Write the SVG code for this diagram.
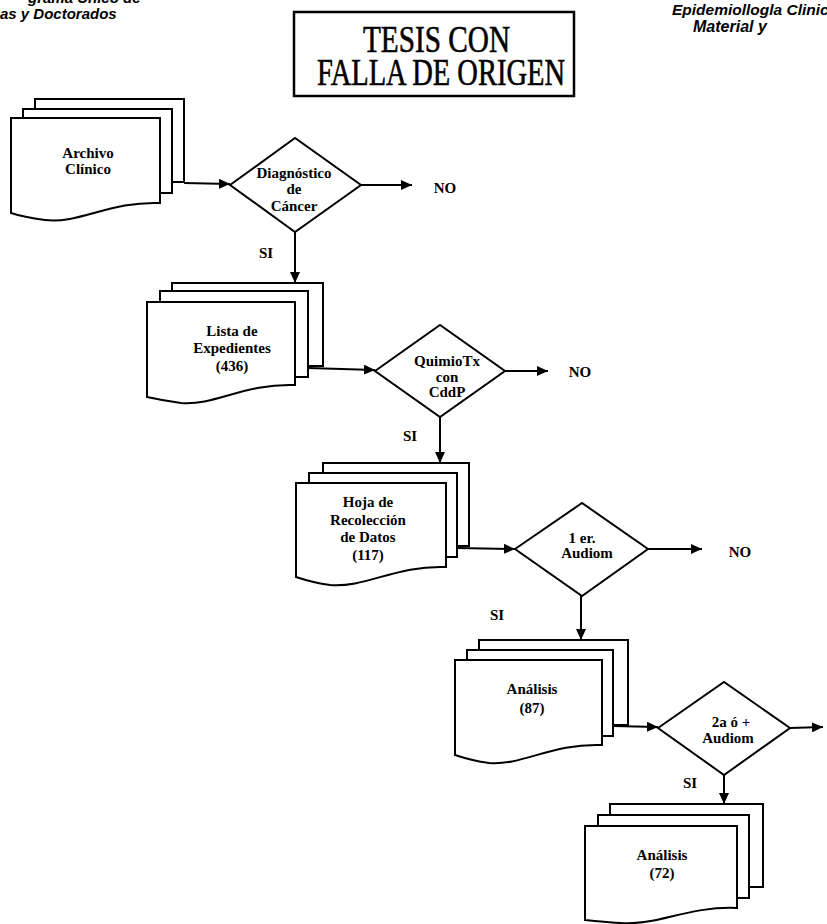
<svg xmlns="http://www.w3.org/2000/svg" width="827" height="924" viewBox="0 0 827 924">
<defs>
<style>
.pg{fill:#fff;stroke:#000;stroke-width:2;stroke-linejoin:miter}
.dm{fill:#fff;stroke:#000;stroke-width:2}
.ln{fill:none;stroke:#000;stroke-width:2}
.lb{font-family:"Liberation Serif","Times New Roman",serif;font-weight:bold;font-size:15px;text-anchor:middle;fill:#000}
.hd{font-family:"Liberation Sans",Arial,sans-serif;font-weight:bold;font-style:italic;fill:#000}
.st{font-family:"Liberation Serif","Times New Roman",serif;font-size:37px;fill:#000;stroke:#000;stroke-width:0.6}
</style>
<marker id="ah" markerWidth="12" markerHeight="10" refX="11" refY="5" orient="auto" markerUnits="userSpaceOnUse">
<path d="M0,0 L11,5 L0,10 Z" fill="#000"/>
</marker>
</defs>
<rect width="827" height="924" fill="#fff"/>

<g id="header">
<text class="hd" x="28" y="3" font-size="15">grama Único de</text>
<text class="hd" x="0" y="19" font-size="15">as y Doctorados</text>
<text class="hd" x="672" y="15" font-size="15.5">Epidemiollogla Clinic</text>
<text class="hd" x="693" y="32" font-size="16">Material y</text>
</g>

<g id="stamp">
<rect x="294" y="12" width="280" height="84" fill="#fff" stroke="#000" stroke-width="2.5"/>
<text class="st" x="363" y="52" textLength="147" lengthAdjust="spacingAndGlyphs">TESIS CON</text>
<text class="st" x="317" y="85" textLength="248" lengthAdjust="spacingAndGlyphs">FALLA DE ORIGEN</text>
</g>

<g id="connectors">
<line class="ln" x1="184" y1="183" x2="230" y2="184" marker-end="url(#ah)"/>
<line class="ln" x1="361" y1="185" x2="412" y2="185" marker-end="url(#ah)"/>
<line class="ln" x1="295" y1="232" x2="295" y2="283" marker-end="url(#ah)"/>
<line class="ln" x1="308" y1="368" x2="375" y2="370" marker-end="url(#ah)"/>
<line class="ln" x1="505" y1="371" x2="548" y2="371" marker-end="url(#ah)"/>
<line class="ln" x1="440" y1="417" x2="440" y2="463" marker-end="url(#ah)"/>
<line class="ln" x1="457" y1="548" x2="515" y2="549" marker-end="url(#ah)"/>
<line class="ln" x1="648" y1="549" x2="702" y2="549" marker-end="url(#ah)"/>
<line class="ln" x1="581" y1="596" x2="581" y2="640" marker-end="url(#ah)"/>
<line class="ln" x1="613" y1="726" x2="658" y2="727" marker-end="url(#ah)"/>
<line class="ln" x1="790" y1="728" x2="823" y2="727" marker-end="url(#ah)"/>
<line class="ln" x1="724" y1="775" x2="724" y2="804" marker-end="url(#ah)"/>
<text class="lb" x="266" y="258">SI</text>
<text class="lb" x="410" y="441">SI</text>
<text class="lb" x="497" y="620">SI</text>
<text class="lb" x="690" y="788">SI</text>
<text class="lb" x="445" y="193">NO</text>
<text class="lb" x="580" y="377">NO</text>
<text class="lb" x="740" y="557">NO</text>
</g>

<g id="archivo">
<rect class="pg" x="35" y="99" width="149" height="83"/>
<rect class="pg" x="23" y="109" width="149" height="84"/>
<path class="pg" d="M11,118 H160 V203 C110,201 80,224 45,220 C30,218 20,216 11,213 Z"/>
<text class="lb" x="88" y="158">Archivo</text>
<text class="lb" x="88" y="174">Clínico</text>
</g>

<g id="diagnostico">
<polygon class="dm" points="230,185 295,138 361,185 295,232"/>
<text class="lb" x="294" y="178">Diagnóstico</text>
<text class="lb" x="294" y="194">de</text>
<text class="lb" x="294" y="211">Cáncer</text>
</g>

<g id="lista">
<rect class="pg" x="172" y="283" width="151" height="83"/>
<rect class="pg" x="160" y="291" width="148" height="86"/>
<path class="pg" d="M147,302 H295 V385 C245,383 215,406 181,403 C166,401 156,399 147,397 Z"/>
<text class="lb" x="232" y="336">Lista de</text>
<text class="lb" x="232" y="353">Expedientes</text>
<text class="lb" x="232" y="371">(436)</text>
</g>

<g id="quimio">
<polygon class="dm" points="375,371 440,325 505,371 440,417"/>
<text class="lb" x="447" y="366">QuimioTx</text>
<text class="lb" x="447" y="382">con</text>
<text class="lb" x="447" y="397">CddP</text>
</g>

<g id="hoja">
<rect class="pg" x="323" y="463" width="146" height="83"/>
<rect class="pg" x="309" y="473" width="148" height="84"/>
<path class="pg" d="M296,483 H446 V567 C396,565 366,588 330,585 C315,583 305,580 296,577 Z"/>
<text class="lb" x="368" y="507">Hoja de</text>
<text class="lb" x="368" y="525">Recolección</text>
<text class="lb" x="368" y="542">de  Datos</text>
<text class="lb" x="368" y="560">(117)</text>
</g>

<g id="audiom1">
<polygon class="dm" points="515,549 582,503 648,549 582,596"/>
<text class="lb" x="582" y="543">1 er.</text>
<text class="lb" x="587" y="558">Audiom</text>
</g>

<g id="analisis87">
<rect class="pg" x="479" y="640" width="149" height="85"/>
<rect class="pg" x="467" y="650" width="146" height="86"/>
<path class="pg" d="M455,660 H602 V745 C552,743 522,766 489,763 C474,761 464,758 455,755 Z"/>
<text class="lb" x="532" y="694">Análisis</text>
<text class="lb" x="532" y="713">(87)</text>
</g>

<g id="audiom2">
<polygon class="dm" points="658,728 724,682 790,728 724,775"/>
<text class="lb" x="731" y="727">2a ó +</text>
<text class="lb" x="728" y="743">Audiom</text>
</g>

<g id="analisis72">
<rect class="pg" x="610" y="804" width="153" height="83"/>
<rect class="pg" x="598" y="815" width="151" height="83"/>
<path class="pg" d="M585,826 H737 V908 C687,906 657,926 620,923 C605,922 595,921 585,920 Z"/>
<text class="lb" x="662" y="860">Análisis</text>
<text class="lb" x="662" y="878">(72)</text>
</g>
</svg>
